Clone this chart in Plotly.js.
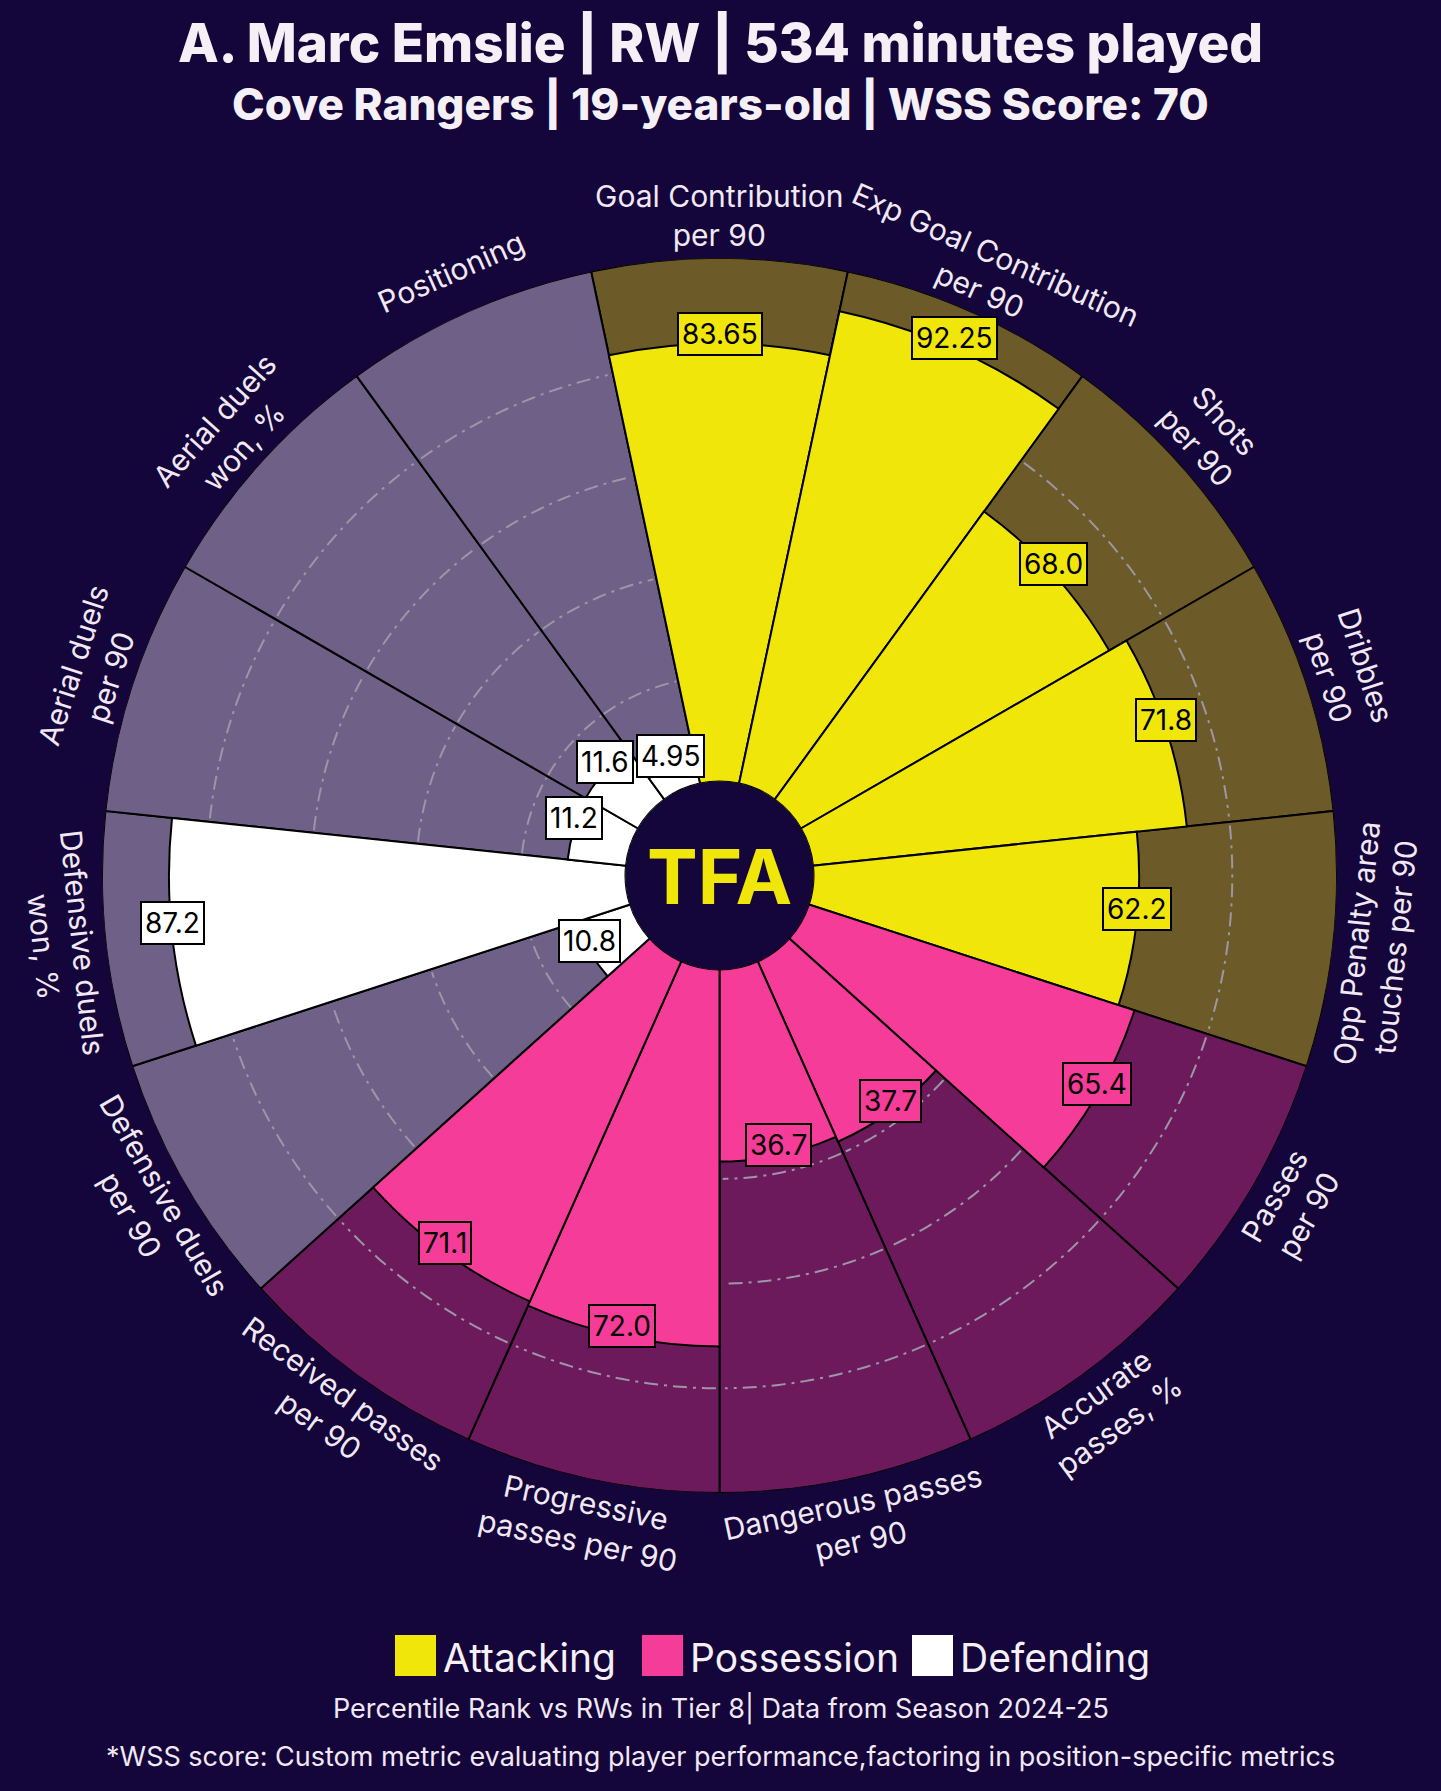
<!DOCTYPE html>
<html>
<head>
<meta charset="utf-8">
<script src="https://cdn.plot.ly/plotly-3.0.1.min.js"></script>
<style>html,body{margin:0;padding:0;background:#14053a;}</style>
</head>
<body>
<div id="chart" style="width:1441px;height:1791px;"></div>
<script>
// ---------------- data ----------------
const params = [
  "Goal Contribution<br>per 90",
  "Exp Goal Contribution<br>per 90",
  "Shots<br>per 90",
  "Dribbles<br>per 90",
  "Opp Penalty area<br>touches per 90",
  "Passes<br>per 90",
  "Accurate<br>passes, %",
  "Dangerous passes<br>per 90",
  "Progressive<br>passes per 90",
  "Received passes<br>per 90",
  "Defensive duels<br>per 90",
  "Defensive duels<br>won, %",
  "Aerial duels<br>per 90",
  "Aerial duels<br>won, %",
  "Positioning"
];
const values = [83.65, 92.25, 68.0, 71.8, 62.2, 65.4, 37.7, 36.7, 72.0, 71.1, 10.8, 87.2, 11.2, 11.6, 4.95];
const valueLabels = ["83.65", "92.25", "68.0", "71.8", "62.2", "65.4", "37.7", "36.7", "72.0", "71.1", "10.8", "87.2", "11.2", "11.6", "4.95"];
const groups = ["Attacking", "Attacking", "Attacking", "Attacking", "Attacking",
                "Possession", "Possession", "Possession", "Possession", "Possession",
                "Defending", "Defending", "Defending", "Defending", "Defending"];
const groupNames = ["Attacking", "Possession", "Defending"];
const gridLevels = [20, 40, 60, 80];
const maxValue = 100;

// ---------------- styles ----------------
const BG = "#14053a";
const barColor = {Attacking: "#f0e60a", Possession: "#f53c98", Defending: "#ffffff"};
const slotColor = {Attacking: "#6c5a28", Possession: "#6c1a5c", Defending: "#6e6086"};
const W = 1441, H = 1791;
const CX = 719.5, CY = 875.5, R = 617.5, HOLE_PX = 94;
const hole = HOLE_PX / R;
const FONT = "Inter, 'Noto Sans', sans-serif";

const n = params.length;
const step = 360 / n;
const thetas = params.map((_, i) => i * step);

// ---------------- traces ----------------
const traces = [];
// background slots
traces.push({
  type: "barpolar",
  r: values.map(() => maxValue),
  theta: thetas,
  width: values.map(() => step),
  marker: {color: groups.map(g => slotColor[g]), line: {color: "#000000", width: 2}},
  hoverinfo: "skip",
  showlegend: false
});
// value bars
traces.push({
  type: "barpolar",
  r: values,
  theta: thetas,
  width: values.map(() => step),
  marker: {color: groups.map(g => barColor[g]), line: {color: "#000000", width: 2}},
  hoverinfo: "skip",
  showlegend: false
});
// grid rings, only where not covered by a value bar
const gr = [], gt = [];
gridLevels.forEach(L => {
  thetas.forEach((t, i) => {
    if (values[i] < L) {
      for (let a = t - step / 2 + 0.4; a <= t + step / 2 - 0.4 + 1e-9; a += 0.5) {
        gr.push(L); gt.push(a);
      }
      gr.push(null); gt.push(null);
    }
  });
});
traces.push({
  type: "scatterpolar",
  mode: "lines",
  r: gr,
  theta: gt,
  connectgaps: false,
  line: {color: "#9c96a6", width: 2, dash: "14px,6px,3px,6px"},
  hoverinfo: "skip",
  showlegend: false
});

// ---------------- annotations ----------------
// overlay cartesian axes in units of the outer radius, centred on the polar centre
function toXY(v, thetaDeg, extra) {
  const rr = hole + (1 - hole) * v / maxValue + (extra || 0);
  const a = thetaDeg * Math.PI / 180;
  return [rr * Math.sin(a), rr * Math.cos(a)];
}
const annotations = [];
// value labels
values.forEach((v, i) => {
  const [x, y] = toXY(v, thetas[i]);
  annotations.push({
    x: x, y: y, xref: "x", yref: "y",
    text: valueLabels[i], showarrow: false,
    xanchor: "center", yanchor: "middle", yshift: 10,
    font: {family: FONT, size: 28, color: "#000000"},
    bgcolor: barColor[groups[i]], bordercolor: "#000000", borderwidth: 2, borderpad: 3
  });
});
// category labels
params.forEach((p, i) => {
  const t = thetas[i];
  const [x, y] = toXY(maxValue, t, 0.069);
  const ang = (t > 90 && t < 270) ? t - 180 : (t >= 270 ? t - 360 : t);
  annotations.push({
    x: x, y: y, xref: "x", yref: "y",
    text: p, showarrow: false, textangle: ang,
    xanchor: "center", yanchor: "middle",
    font: {family: FONT, size: 30, color: "#f1e8f4"},
    align: "center"
  });
});
// centre logo
annotations.push({
  x: 0, y: 0, xref: "x", yref: "y", text: "<b>TFA</b>", showarrow: false,
  xanchor: "center", yanchor: "middle",
  font: {family: "Inter, sans-serif", size: 76, color: "#f0e60a", weight: 900}
});
// subtitle
annotations.push({
  x: 0.5, y: 1 - 104 / H, xref: "paper", yref: "paper", showarrow: false,
  xanchor: "center", yanchor: "middle",
  text: "Cove Rangers | 19-years-old | WSS Score: 70",
  font: {family: FONT, size: 44, color: "#f5f0f5", weight: 800}
});
// legend
const legendX = [395, 642, 912];
const shapes = [];
groupNames.forEach((g, k) => {
  shapes.push({
    type: "rect", xref: "paper", yref: "paper",
    x0: legendX[k] / W, x1: (legendX[k] + 41) / W,
    y0: 1 - 1676 / H, y1: 1 - 1635 / H,
    fillcolor: barColor[g], line: {width: 0}
  });
  annotations.push({
    x: (legendX[k] + 46) / W, y: 1 - 1657 / H, xref: "paper", yref: "paper",
    showarrow: false, xanchor: "left", yanchor: "middle", text: g,
    font: {family: FONT, size: 39, color: "#f5f0f5"}
  });
});
// footer
annotations.push({
  x: 0.5, y: 1 - 1708 / H, xref: "paper", yref: "paper", showarrow: false,
  xanchor: "center", yanchor: "middle",
  text: "Percentile Rank vs RWs in Tier 8| Data from Season 2024-25",
  font: {family: FONT, size: 27, color: "#f1e8f4"}
});
annotations.push({
  x: 0.5, y: 1 - 1756 / H, xref: "paper", yref: "paper", showarrow: false,
  xanchor: "center", yanchor: "middle",
  text: "*WSS score: Custom metric evaluating player performance,factoring in position-specific metrics",
  font: {family: FONT, size: 27, color: "#f1e8f4"}
});

const layout = {
  width: W, height: H,
  margin: {l: 0, r: 0, t: 0, b: 0},
  paper_bgcolor: BG, plot_bgcolor: BG,
  showlegend: false,
  title: {
    text: "A. Marc Emslie | RW | 534 minutes played",
    x: 0.5, xanchor: "center", y: 1 - 43 / H, yanchor: "middle",
    font: {family: FONT, size: 53, color: "#f5f0f5", weight: 800}
  },
  polar: {
    domain: {x: [(CX - R) / W, (CX + R) / W], y: [(H - CY - R) / H, (H - CY + R) / H]},
    bgcolor: BG,
    hole: hole,
    barmode: "overlay",
    bargap: 0,
    radialaxis: {range: [0, maxValue], visible: false, showgrid: false},
    angularaxis: {rotation: 90, direction: "clockwise", showgrid: false, showline: false,
                  showticklabels: false, ticks: ""}
  },
  xaxis: {domain: [0, 1], range: [-CX / R, (W - CX) / R], visible: false, fixedrange: true},
  yaxis: {domain: [0, 1], range: [-(H - CY) / R, CY / R], visible: false, fixedrange: true},
  annotations: annotations,
  shapes: shapes
};

Plotly.newPlot("chart", traces, layout, {staticPlot: true, displayModeBar: false});
</script>
</body>
</html>
